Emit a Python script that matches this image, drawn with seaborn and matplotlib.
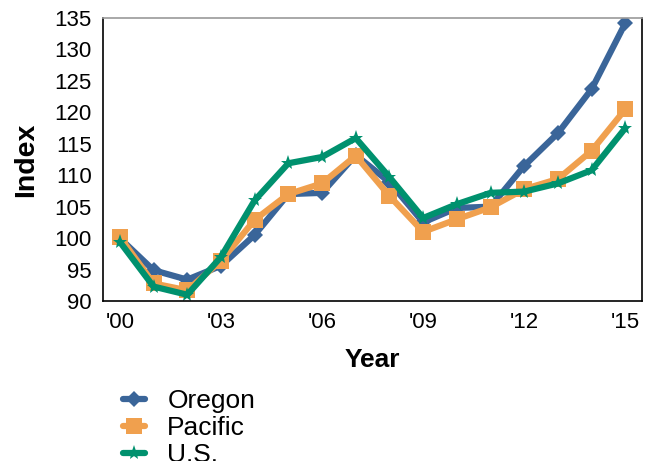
import pandas as pd
import seaborn as sns
import matplotlib.pyplot as plt

years = list(range(2000, 2016))
oregon = [100, 94.9, 93.4, 95.6, 100.5, 107, 107.2, 113.2, 108.9, 102.5, 104.8, 105, 111.5, 116.7, 123.7, 134.2]
pacific = [100.2, 92.8, 91.7, 96.4, 102.9, 107, 108.7, 113.1, 106.7, 101.0, 103, 104.9, 107.8, 109.4, 113.9, 120.5]
us = [99.4, 92.3, 91.0, 97.0, 106, 111.9, 112.9, 115.9, 109.7, 103.2, 105.4, 107.2, 107.4, 108.7, 110.8, 117.5]
regions = ['Oregon', 'Pacific', 'U.S.']
tick_years = [2000, 2003, 2006, 2009, 2012, 2015]
tick_labels = ["'00", "'03", "'06", "'09", "'12", "'15"]

df = pd.DataFrame({'Year': years * 3,
                   'Index': oregon + pacific + us,
                   'Region': [r for r in regions for _ in years]})

sns.set_style('white')
plt.rcParams['font.family'] = ['Liberation Sans', 'DejaVu Sans']
plt.rcParams['text.color'] = 'black'
plt.rcParams['axes.labelcolor'] = 'black'
plt.rcParams['xtick.color'] = 'black'
plt.rcParams['ytick.color'] = 'black'

fig = plt.figure(figsize=(6.56, 4.61), dpi=100)
ax = fig.add_axes([0.157, 0.347, 0.822, 0.614])

palette = {'Oregon': '#3a6599', 'Pacific': '#f0a04e', 'U.S.': '#00916e'}
markers = {'Oregon': 'D', 'Pacific': 's', 'U.S.': '*'}
sizes = {'Oregon': 8, 'Pacific': 11, 'U.S.': 11}

for r in regions:
    sub = df[df['Region'] == r]
    sns.lineplot(data=sub, x='Year', y='Index', color=palette[r], marker=markers[r],
                 markersize=sizes[r], markeredgewidth=0, linewidth=4.5,
                 solid_capstyle='round', label=r, ax=ax)

ax.set_xlim(1999.5, 2015.5)
ax.set_ylim(90, 135)
ax.set_xticks(tick_years)
ax.set_xticklabels(tick_labels)
ax.set_yticks(range(90, 136, 5))
ax.tick_params(axis='y', labelsize=16, length=0, pad=8)
ax.tick_params(axis='x', labelsize=16, length=0, pad=8)
ax.set_xlabel('Year', fontsize=19, fontweight='bold', labelpad=11)
ax.set_ylabel('Index', fontsize=20.5, fontweight='bold', labelpad=11.5)

for s in ax.spines.values():
    s.set_color('black')
    s.set_linewidth(1.2)
ax.spines['top'].set_color('#999999')

ax.legend(loc='upper left', bbox_to_anchor=(0.1875, 0.156), bbox_transform=fig.transFigure,
          frameon=False, fontsize=19, handlelength=0.85, labelspacing=0.12,
          borderaxespad=0, borderpad=0, handletextpad=0.83)

fig.savefig('out.png', dpi=100)
